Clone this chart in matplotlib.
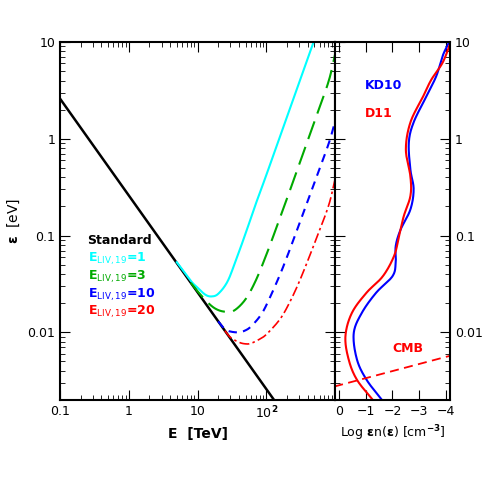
import numpy as np
import matplotlib
matplotlib.use("Agg")
import matplotlib.pyplot as plt
from matplotlib.ticker import FixedLocator, NullFormatter

# Standard threshold line
std_E = [0.1, 1000.0]
std_eps = [2.6, 0.00026]

cyan_E = [5, 8, 10, 13, 16, 20, 27, 35, 50, 70, 100, 150, 200, 300, 500]
cyan_eps = [.053, .034, .029, .0245, .0235, .025, .033, .052, .105, .21, .42, .95, 1.68, 3.78, 10.5]
green_E = [8, 10, 15, 20, 27, 35, 50, 70, 100, 150, 200, 300, 500, 800, 1000]
green_eps = [.0325, .0266, .0195, .017, .0163, .017, .022, .034, .063, .137, .24, .54, 1.5, 3.84, 7.4]
blue_E = [20, 25, 30, 40, 50, 60, 80, 100, 150, 200, 300, 500, 800, 1000]
blue_eps = [.013, .0108, .0102, .0100, .0105, .0115, .0145, .019, .036, .06, .13, .35, .87, 1.5]
red_E = [25, 30, 40, 50, 60, 80, 100, 150, 200, 300, 500, 800, 1000]
red_eps = [.0104, .0089, .0079, .0076, .0077, .0085, .0095, .013, .018, .033, .082, .2, .38]

kd10_logeps = [-2.70, -2.49, -2.28, -2.01, -1.80, -1.59, -1.42, -1.28, -1.11, -0.94, -0.73, -0.52, -0.32, -0.04, 0.17, 0.44, 0.65, 0.86, 1.0]
kd10_logn = [-1.61, -1.03, -0.67, -0.55, -0.85, -1.39, -2.0, -2.12, -2.12, -2.3, -2.67, -2.79, -2.67, -2.61, -2.79, -3.27, -3.64, -3.88, -4.12]
d11_logeps = [-2.70, -2.49, -2.28, -2.04, -1.80, -1.59, -1.42, -1.21, -1.01, -0.80, -0.59, -0.39, -0.11, 0.17, 0.44, 0.61, 0.79, 1.0]
d11_logn = [-1.27, -0.67, -0.36, -0.24, -0.48, -1.03, -1.64, -2.06, -2.24, -2.42, -2.67, -2.67, -2.5, -2.67, -3.15, -3.45, -3.88, -4.18]
cmb_logeps = [-2.56, -2.24]
cmb_logn = [0.18, -4.18]

plt.rcParams['font.family'] = ['DejaVu Sans']
plt.rcParams['mathtext.default'] = 'bf'


def catmull(px, py, n=20):
    """Smooth curve through given points (Catmull-Rom)."""
    P = np.column_stack([px, py]).astype(float)
    P = np.vstack([2*P[0]-P[1], P, 2*P[-1]-P[-2]])
    out = []
    t = np.linspace(0, 1, n, endpoint=False)[:, None]
    for i in range(1, len(P)-2):
        p0, p1, p2, p3 = P[i-1], P[i], P[i+1], P[i+2]
        out.append(0.5*((2*p1) + (-p0+p2)*t + (2*p0-5*p1+4*p2-p3)*t**2 + (-p0+3*p1-3*p2+p3)*t**3))
    out.append(P[-2][None, :])
    o = np.vstack(out)
    return o[:, 0], o[:, 1]


def smooth_loglog(x, y):
    gx, gy = catmull(np.log10(x), np.log10(y))
    return 10**gx, 10**gy


fig = plt.figure(figsize=(4.91, 4.91), dpi=100)
ax = fig.add_axes([60/491, 91/491, 275/491, 358/491])
ax2 = fig.add_axes([335/491, 91/491, 115/491, 358/491])

ax.plot(std_E, std_eps, color='black', lw=1.8)
ax.plot(*smooth_loglog(cyan_E, cyan_eps), color='cyan', lw=1.5)
ax.plot(*smooth_loglog(green_E, green_eps), color='#00aa00', lw=1.5, dashes=(9, 4))
ax.plot(*smooth_loglog(blue_E, blue_eps), color='blue', lw=1.5, dashes=(4, 3))
ax.plot(*smooth_loglog(red_E, red_eps), color='red', lw=1.2, dashes=(6, 2, 1.5, 2))
ax.set_xscale('log'); ax.set_yscale('log')
ax.set_xlim(0.1, 1000); ax.set_ylim(0.002, 10)
ax.xaxis.set_major_locator(FixedLocator([0.1, 1, 10, 100]))
ax.set_xticklabels(['0.1', '1', '10', r'10$^2$'])
ax.yaxis.set_major_locator(FixedLocator([0.01, 0.1, 1, 10]))
ax.set_yticklabels(['0.01', '0.1', '1', '10'])
ax.tick_params(which='both', direction='in', top=True, right=True, labelsize=9)
ax.tick_params(which='major', length=7)
ax.tick_params(which='minor', length=3.5)
ax.set_xlabel('E  [TeV]', fontsize=10, fontweight='bold')
ax.set_ylabel(r'$\epsilon$  [eV]', fontsize=10)

ty = [0.445, 0.395, 0.345, 0.295, 0.245]
labels = ['Standard', r'E$_{\rm LIV,19}$=1', r'E$_{\rm LIV,19}$=3', r'E$_{\rm LIV,19}$=10', r'E$_{\rm LIV,19}$=20']
cols = ['black', 'cyan', '#00aa00', 'blue', 'red']
for t, l, c in zip(ty, labels, cols):
    ax.text(0.1, t, l, color=c, transform=ax.transAxes, fontsize=9, fontweight='bold', va='center')

for xs, ys, c in [(kd10_logn, kd10_logeps, 'blue'), (d11_logn, d11_logeps, 'red')]:
    sx, sy = catmull(xs, ys)
    ax2.plot(sx, 10**sy, color=c, lw=1.5)
ax2.plot(cmb_logn, 10**np.array(cmb_logeps), color='red', lw=1.3, dashes=(5, 3))
ax2.set_yscale('log')
ax2.set_ylim(0.002, 10); ax2.set_xlim(0.15, -4.15)
ax2.xaxis.set_major_locator(FixedLocator([0, -1, -2, -3, -4]))
ax2.set_xticklabels(['0', '\u22121', '\u22122', '\u22123', '\u22124'])
ax2.yaxis.set_major_locator(FixedLocator([0.01, 0.1, 1, 10]))
ax2.yaxis.set_minor_formatter(NullFormatter())
ax2.set_yticklabels(['0.01', '0.1', '1', '10'])
ax2.tick_params(which='both', direction='in', top=True, right=True, left=True,
                labelleft=False, labelright=True, labelsize=9)
ax2.tick_params(which='major', length=7)
ax2.tick_params(which='minor', length=3.5)
ax2.set_xlabel(r'Log $\epsilon$n($\epsilon$) [cm$^{-3}$]', fontsize=9)
ax2.text(0.26, 0.87, 'KD10', color='blue', transform=ax2.transAxes, fontsize=9, fontweight='bold')
ax2.text(0.26, 0.79, 'D11', color='red', transform=ax2.transAxes, fontsize=9, fontweight='bold')
ax2.text(0.5, 0.135, 'CMB', color='red', transform=ax2.transAxes, fontsize=9, fontweight='bold')
for a in (ax, ax2):
    for s in a.spines.values():
        s.set_linewidth(1.5)

fig.savefig('out.png', dpi=100)
